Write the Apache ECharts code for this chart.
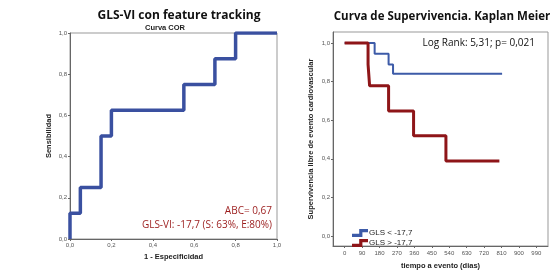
<!DOCTYPE html>
<html>
<head>
<meta charset="utf-8">
<script src="https://cdn.jsdelivr.net/npm/echarts@6/dist/echarts.min.js"></script>
<style>
  html, body { margin: 0; padding: 0; background: #fff; }
  #chart { width: 560px; height: 278px; }
</style>
</head>
<body>
<div id="chart"></div>
<script>
// curva COR (1 - especificidad, sensibilidad)
var rocX = [0, 0, 0.05, 0.15, 0.2, 0.55, 0.7, 0.8, 1.0];
var rocY = [0, 0.125, 0.25, 0.5, 0.625, 0.75, 0.875, 1.0, 1.0];

// Kaplan Meier (dias, supervivencia)
var kmBlueX = [0, 155, 227, 250, 813];
var kmBlueY = [1.0, 0.944, 0.889, 0.84, 0.84];
var kmRedX = [0, 121, 129, 227, 356, 523, 799];
var kmRedY = [1.0, 0.889, 0.778, 0.648, 0.519, 0.389, 0.389];

var tiempoTicks = [0, 90, 180, 270, 360, 450, 540, 630, 720, 810, 900, 990];
var survTicks = [0, 0.2, 0.4, 0.6, 0.8, 1.0];

var serieNames = ['GLS < -17,7', 'GLS > -17,7'];

function pares(xs, ys) {
    return xs.map(function (x, i) { return [x, ys[i]]; });
}
function coma(v) {
    return v.toFixed(1).replace('.', ',');
}

var tickFont = { fontSize: 6, color: '#555', fontFamily: 'Liberation Sans' };
var axisTitle = { fontSize: 7.5, fontWeight: 'bold', color: '#222', fontFamily: 'Liberation Sans' };
var stepIcon = 'path://M0,6 L9,6 L9,0 L20,0 L20,4 L13,4 L13,10 L0,10 Z';

var myChart = echarts.init(document.getElementById('chart'));
var option = {
    animation: false,
    title: [
        { text: 'GLS-VI con feature tracking', left: 174, top: 5, textAlign: 'center',
          textStyle: { fontSize: 12, fontWeight: 'bold', fontFamily: 'Open Sans', color: '#111' } },
        { text: 'Curva COR', left: 160, top: 19, textAlign: 'center',
          textStyle: { fontSize: 7.5, fontWeight: 'bold', fontFamily: 'Liberation Sans', color: '#222' } },
        { text: 'Curva de Supervivencia. Kaplan Meier', left: 437, top: 6, textAlign: 'center',
          textStyle: { fontSize: 11.5, fontWeight: 'bold', fontFamily: 'Open Sans', color: '#111' } }
    ],
    legend: {
        left: 347, top: 224, orient: 'vertical', itemWidth: 18, itemHeight: 8, itemGap: 2,
        data: [
            { name: serieNames[0], icon: stepIcon },
            { name: serieNames[1], icon: stepIcon }
        ],
        textStyle: { fontSize: 8, color: '#222', fontFamily: 'Liberation Sans', padding: [0, 0, 0, -5] }
    },
    graphic: [
        { type: 'text', right: 288, top: 206, style: { text: 'ABC= 0,67', fill: '#9b1c1c', font: '10px "Open Sans"' } },
        { type: 'text', right: 288, top: 220, style: { text: 'GLS-VI: -17,7 (S: 63%, E:80%)', fill: '#9b1c1c', font: '10px "Open Sans"' } },
        { type: 'text', right: 25, top: 38, style: { text: 'Log Rank: 5,31; p= 0,021', fill: '#111', font: '10px "Open Sans"' } }
    ],
    grid: [
        { left: 70, right: 283, top: 33, bottom: 39, show: true, borderColor: '#999', borderWidth: 1 },
        { left: 333, right: 12, top: 32, bottom: 32, show: true, borderColor: '#999', borderWidth: 1 }
    ],
    xAxis: [
        { gridIndex: 0, type: 'value', min: 0, max: 1, interval: 0.2,
          name: '1 - Especificidad', nameLocation: 'middle', nameGap: 14, nameTextStyle: axisTitle,
          axisLine: { lineStyle: { color: '#666' } }, axisTick: { length: 2, lineStyle: { color: '#666' } },
          splitLine: { show: false }, axisLabel: Object.assign({ margin: 3, formatter: coma }, tickFont) },
        { gridIndex: 1, type: 'value', min: -60, max: 1050,
          name: 'tiempo a evento (dias)', nameLocation: 'middle', nameGap: 16, nameTextStyle: axisTitle,
          axisLine: { onZero: false, lineStyle: { color: '#666' } },
          axisTick: { customValues: tiempoTicks, length: 2, lineStyle: { color: '#666' } },
          splitLine: { show: false },
          axisLabel: Object.assign({ margin: 4, customValues: tiempoTicks }, tickFont) }
    ],
    yAxis: [
        { gridIndex: 0, type: 'value', min: 0, max: 1, interval: 0.2,
          name: 'Sensibilidad', nameLocation: 'middle', nameGap: 17, nameTextStyle: axisTitle,
          axisLine: { show: true, lineStyle: { color: '#666' } }, axisTick: { show: true, length: 2, lineStyle: { color: '#666' } },
          splitLine: { show: false }, axisLabel: Object.assign({ margin: 3, formatter: coma }, tickFont) },
        { gridIndex: 1, type: 'value', min: -0.052, max: 1.057,
          name: 'Supervivencia libre de evento cardiovascular', nameLocation: 'middle', nameGap: 18, nameTextStyle: axisTitle,
          axisLine: { show: true, onZero: false, lineStyle: { color: '#666' } },
          axisTick: { show: true, customValues: survTicks, length: 2, lineStyle: { color: '#666' } },
          splitLine: { show: false },
          axisLabel: Object.assign({ margin: 3, customValues: survTicks, formatter: coma }, tickFont) }
    ],
    series: [
        { name: 'COR', type: 'line', xAxisIndex: 0, yAxisIndex: 0, step: 'end', showSymbol: false,
          lineStyle: { color: '#3a50a0', width: 3.5 }, data: pares(rocX, rocY) },
        { name: serieNames[0], type: 'line', xAxisIndex: 1, yAxisIndex: 1, step: 'end', showSymbol: false,
          color: '#3d5ba8', lineStyle: { color: '#3d5ba8', width: 2 }, data: pares(kmBlueX, kmBlueY) },
        { name: serieNames[1], type: 'line', xAxisIndex: 1, yAxisIndex: 1, step: 'end', showSymbol: false,
          color: '#8e1518', lineStyle: { color: '#8e1518', width: 3 }, data: pares(kmRedX, kmRedY) }
    ]
};
myChart.setOption(option);

window.addEventListener('resize', function () {
    myChart.resize();
}, false);
</script>
</body>
</html>
